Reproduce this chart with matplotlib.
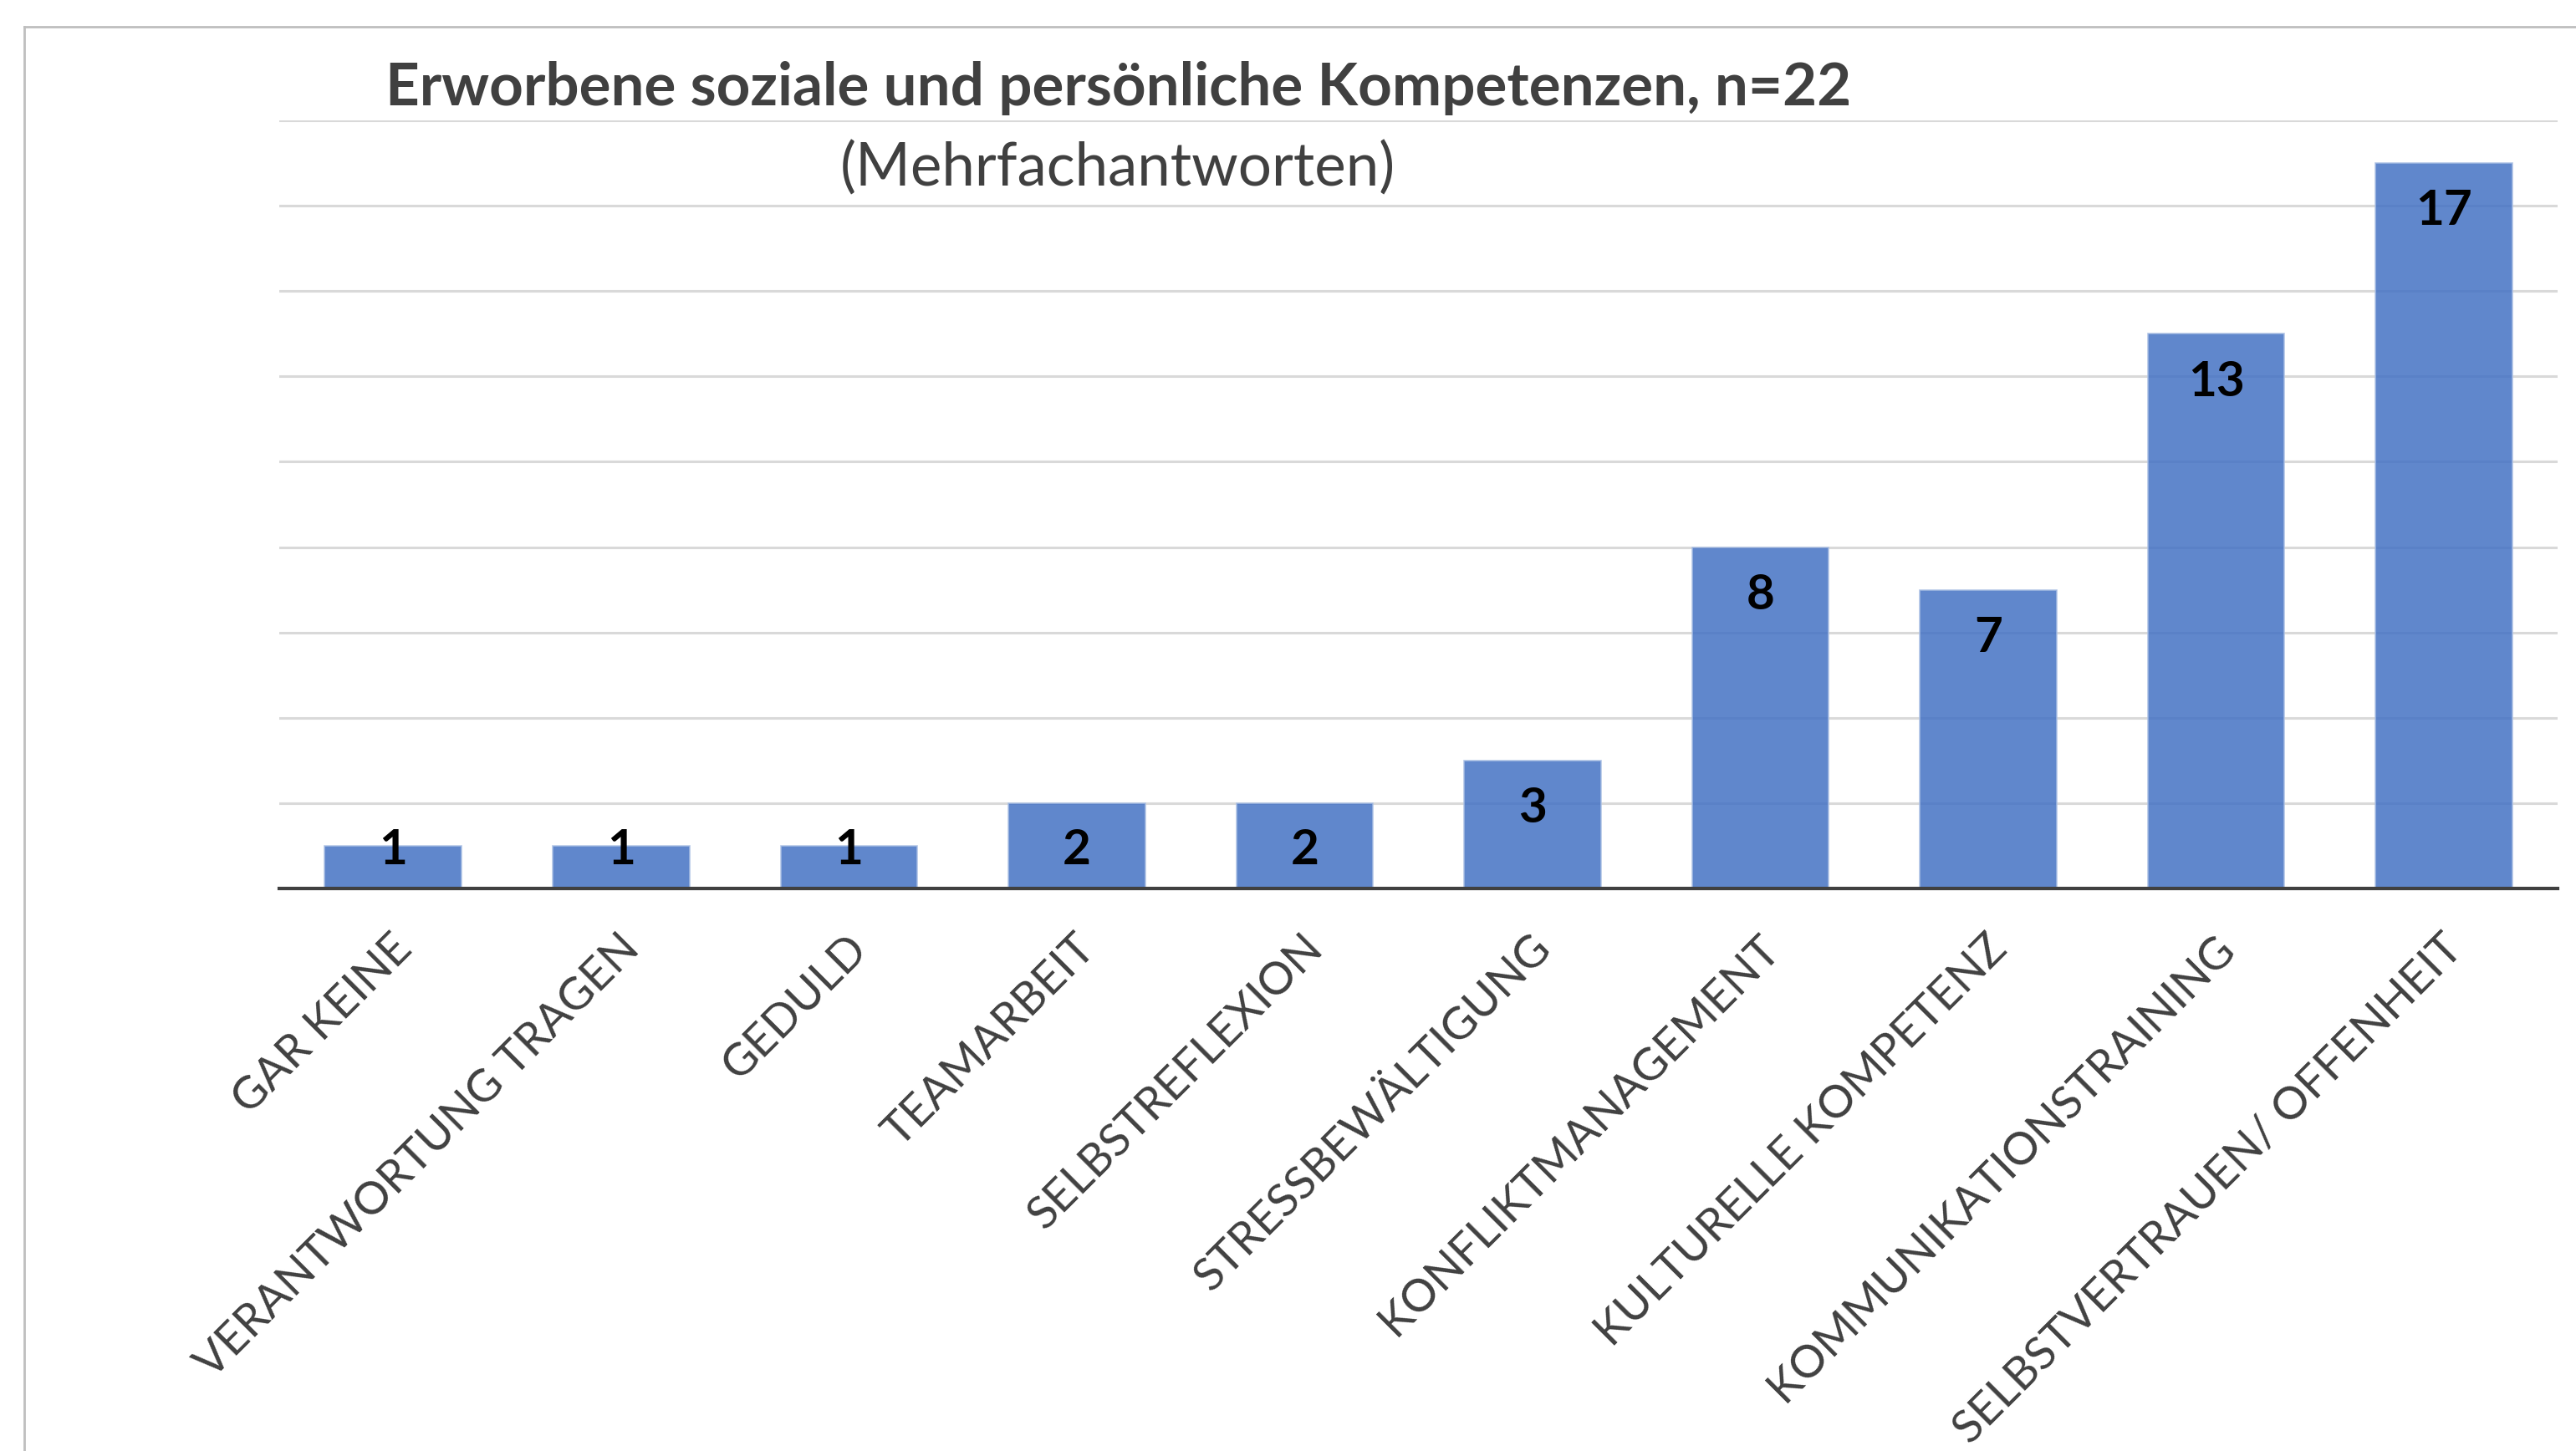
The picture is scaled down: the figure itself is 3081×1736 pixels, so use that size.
import numpy as np
from matplotlib import pyplot as plt
from matplotlib.lines import Line2D
import matplotlib.transforms as mtransforms

plt.rcParams['font.family'] = ['Lato', 'DejaVu Sans']

# daten
kategorien = ['GAR KEINE', 'VERANTWORTUNG TRAGEN', 'GEDULD', 'TEAMARBEIT',
              'SELBSTREFLEXION', 'STRESSBEWÄLTIGUNG', 'KONFLIKTMANAGEMENT',
              'KULTURELLE KOMPETENZ', 'KOMMUNIKATIONSTRAINING',
              'SELBSTVERTRAUEN/ OFFENHEIT']
anzahl = [1, 1, 1, 2, 2, 3, 8, 7, 13, 17]

titel = 'Erworbene soziale und persönliche Kompetenzen, n=22'
untertitel = '(Mehrfachantworten)'

grau = '#404040'

fig = plt.figure(figsize=(30.81, 17.36), dpi=100)
ax = fig.add_axes([0.1084, 0.3877, 0.8846, 0.5293])

x = np.arange(len(kategorien))
ax.bar(x, anzahl, width=0.6, color='#4472C4', alpha=0.85,
       edgecolor='#a9bfe4', linewidth=1.2, zorder=2)

# werte in den balken
for xi, v in zip(x, anzahl):
    ax.text(xi, max(v - 1.13, 0.9), str(v), ha='center', va='center',
            fontsize=42, fontweight='bold', color='black', zorder=3)

ax.set_xlim(-0.5, len(kategorien) - 0.5)
ax.set_ylim(0, 18)
ax.set_yticks(np.arange(0, 19, 2))
ax.yaxis.grid(True, color='#d9d9d9', linewidth=2.2, zorder=0)
ax.set_axisbelow(True)
ax.tick_params(axis='y', left=False, labelleft=False)
for s in ['top', 'right', 'left']:
    ax.spines[s].set_visible(False)
ax.spines['bottom'].set_color(grau)
ax.spines['bottom'].set_linewidth(3)
ax.spines['bottom'].set_zorder(4)

ax.set_xticks(x)
ax.set_xticklabels(kategorien, rotation=45, ha='right', va='center',
                   rotation_mode='anchor', fontsize=39, color=grau)
ax.tick_params(axis='x', length=0, pad=46)
offset = mtransforms.ScaledTranslation(10 / 72, 0, fig.dpi_scale_trans)
for lab in ax.get_xticklabels():
    lab.set_transform(lab.get_transform() + offset)

fig.text(0.434, 0.939, titel, ha='center', va='center', fontsize=51,
         fontweight='bold', color=grau)
fig.text(0.434, 0.884, untertitel, ha='center', va='center', fontsize=51,
         color=grau)

# rahmen des diagrammbereichs
yr = 1 - 32 / 1736
xr = 29 / 3081
fig.add_artist(Line2D([xr, xr], [0, yr], transform=fig.transFigure,
                      color='#bfbfbf', linewidth=2))
fig.add_artist(Line2D([xr, 1], [yr, yr], transform=fig.transFigure,
                      color='#bfbfbf', linewidth=2))

fig.savefig('out.png', dpi=100)
